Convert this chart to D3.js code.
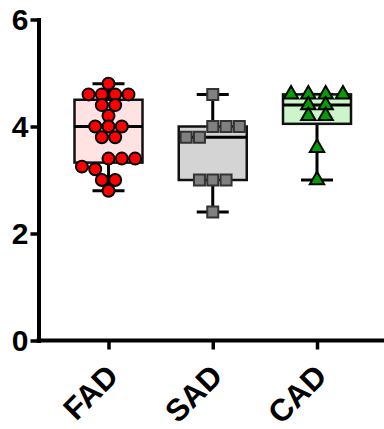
<!DOCTYPE html>
<html>
<head>
<meta charset="utf-8">
<script src="https://cdn.jsdelivr.net/npm/d3@7"></script>
<style>
  body { margin: 0; background: #fff; }
  svg { display: block; font-family: "Liberation Sans", Arial, sans-serif; font-weight: bold; }
</style>
</head>
<body>
<svg id="chart" width="384" height="429"></svg>
<script>
// values
const categories = ['FAD', 'SAD', 'CAD'];
const fadValues = [4.8, 4.6, 4.6, 4.6, 4.6, 4.4, 4.4, 4.2, 4.0, 4.0, 4.0, 3.8, 3.8, 3.4, 3.4, 3.4, 3.25, 3.2, 3.0, 3.0, 2.8];
const sadValues = [4.6, 4.0, 4.0, 4.0, 3.8, 3.8, 3.0, 3.0, 3.0, 2.4];
const cadValues = [4.6, 4.6, 4.6, 4.6, 4.4, 4.4, 4.2, 4.2, 3.6, 3.0];
const yTicks = [0, 2, 4, 6];

const groups = [
  {name: categories[0], values: fadValues, box: '#ffe2e2', dot: '#ff0000', dotStroke: '#000', symbol: d3.symbolCircle, size: 113, step: 13.3, gap: 9},
  {name: categories[1], values: sadValues, box: '#d4d4d4', dot: '#808080', dotStroke: '#333', symbol: d3.symbolSquare, size: 121, step: 13.3, gap: 12},
  {name: categories[2], values: cadValues, box: '#ccf5cc', dot: '#00a000', dotStroke: '#000', symbol: d3.symbolTriangle, size: 90, step: 17.3, gap: 9}
];

const svg = d3.select('#chart');
const axisX = 38.5;
const x = d3.scalePoint().domain(categories).range([108.5, 317]);
const y = d3.scaleLinear().domain([0, 6]).range([340.5, 19.5]);
const boxHalf = 34;
const capHalf = 16;

// quartiles the (n+1)p way
function quart(sorted, p) {
  const n = sorted.length;
  const pos = (n + 1) * p;
  const lo = Math.max(1, Math.floor(pos));
  const hi = Math.min(n, Math.ceil(pos));
  const a = sorted[lo - 1], b = sorted[hi - 1];
  return a + (b - a) * (pos - Math.floor(pos));
}

// rows of equal values centred on the group; rows too close are merged side by side
function swarm(values, step, gap) {
  const pts = values.map(v => ({v: v, y: y(v)})).sort((a, b) => a.y - b.y);
  const rows = [];
  pts.forEach(p => {
    const last = rows[rows.length - 1];
    if (last && p.y - last[last.length - 1].y < 6) last.push(p); else rows.push([p]);
  });
  const bands = [];
  rows.forEach(r => {
    const last = bands[bands.length - 1];
    if (last) {
      const prevRow = last[last.length - 1];
      if (r[0].y - prevRow[prevRow.length - 1].y < gap) { last.push(r); return; }
    }
    bands.push([r]);
  });
  bands.forEach(b => {
    const flat = b.slice().reverse().flat();
    flat.forEach((p, k) => { p.dx = (k - (flat.length - 1) / 2) * step; });
  });
  return pts;
}

groups.forEach(g => {
  const s = g.values.slice().sort(d3.ascending);
  const cx = x(g.name);
  const q1 = quart(s, 0.25), med = quart(s, 0.5), q3 = quart(s, 0.75);
  const lo = d3.min(s), hi = d3.max(s);
  const gr = svg.append('g');

  gr.append('line').attr('x1', cx).attr('x2', cx).attr('y1', y(hi)).attr('y2', y(lo))
    .attr('stroke', '#000').attr('stroke-width', 3);
  [hi, lo].forEach(v => {
    gr.append('line').attr('x1', cx - capHalf).attr('x2', cx + capHalf).attr('y1', y(v)).attr('y2', y(v))
      .attr('stroke', '#000').attr('stroke-width', 3);
  });
  gr.append('rect').attr('x', cx - boxHalf).attr('width', boxHalf * 2)
    .attr('y', y(q3)).attr('height', y(q1) - y(q3))
    .attr('fill', g.box).attr('stroke', '#111').attr('stroke-width', 2.5);
  gr.append('line').attr('x1', cx - boxHalf).attr('x2', cx + boxHalf).attr('y1', y(med)).attr('y2', y(med))
    .attr('stroke', '#000').attr('stroke-width', 3);

  const sym = d3.symbol().type(g.symbol).size(g.size);
  gr.selectAll('path.dot').data(swarm(g.values, g.step, g.gap)).enter().append('path')
    .attr('class', 'dot')
    .attr('d', sym)
    .attr('transform', d => `translate(${cx + d.dx},${d.y})`)
    .attr('fill', g.dot).attr('stroke', g.dotStroke).attr('stroke-width', 2);
});

// y axis
const yAxis = d3.axisLeft(y).tickValues(yTicks).tickFormat(d3.format('d'))
  .tickSize(8).tickSizeOuter(0).tickPadding(2);
const yg = svg.append('g').attr('transform', `translate(${axisX},0)`).call(yAxis);
yg.select('.domain').attr('stroke-width', 4).attr('stroke-linecap', 'square');
yg.selectAll('.tick line').attr('stroke-width', 3.5);
yg.selectAll('.tick text').attr('font-size', 30).attr('font-weight', 'bold').attr('fill', '#000')
  .attr('font-family', '"Liberation Sans", Arial, sans-serif');

// x axis
const xAxis = d3.axisBottom(x).tickSize(9).tickSizeOuter(0);
const xg = svg.append('g').attr('transform', `translate(0,${y(0)})`).call(xAxis);
xg.select('.domain').remove();
xg.append('line').attr('x1', axisX - 2).attr('x2', 384).attr('y1', 0).attr('y2', 0)
  .attr('stroke', '#000').attr('stroke-width', 4);
xg.selectAll('.tick line').attr('stroke-width', 3.5);
xg.selectAll('.tick text')
  .attr('font-size', 31).attr('font-weight', 'bold').attr('fill', '#000')
  .attr('font-family', '"Liberation Sans", Arial, sans-serif')
  .attr('text-anchor', 'end')
  .attr('y', 0).attr('dy', 0)
  .attr('transform', 'translate(11,37.5) rotate(-45)');
</script>
</body>
</html>
